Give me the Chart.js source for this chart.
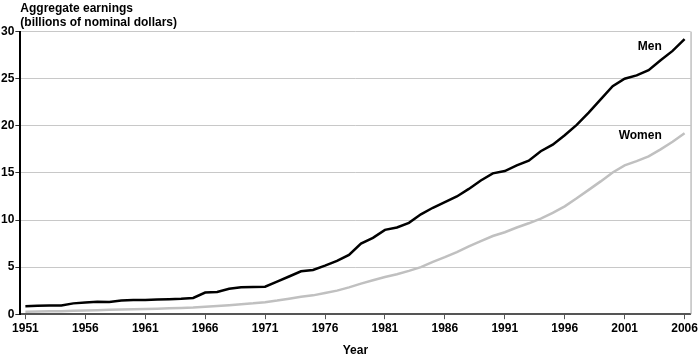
<!DOCTYPE html>
<html>
<head>
<meta charset="utf-8">
<script src="https://cdn.jsdelivr.net/npm/chart.js@4"></script>
<style>
  html, body { margin: 0; padding: 0; background: #fff; }
  #wrap { width: 700px; height: 359px; }
</style>
</head>
<body>
<div id="wrap"><canvas id="earningsChart"></canvas></div>
<script>
const years = [1951, 1952, 1953, 1954, 1955, 1956, 1957, 1958, 1959, 1960,
    1961, 1962, 1963, 1964, 1965, 1966, 1967, 1968, 1969, 1970,
    1971, 1972, 1973, 1974, 1975, 1976, 1977, 1978, 1979, 1980,
    1981, 1982, 1983, 1984, 1985, 1986, 1987, 1988, 1989, 1990,
    1991, 1992, 1993, 1994, 1995, 1996, 1997, 1998, 1999, 2000,
    2001, 2002, 2003, 2004, 2005, 2006];

// billions of nominal dollars
const menEarnings = [0.85, 0.9, 0.92, 0.92, 1.15, 1.25, 1.32, 1.3, 1.45, 1.5,
    1.5, 1.55, 1.6, 1.65, 1.73, 2.3, 2.35, 2.7, 2.85, 2.9,
    2.92, 3.45, 4.0, 4.55, 4.7, 5.15, 5.65, 6.3, 7.5, 8.1,
    8.95, 9.2, 9.7, 10.6, 11.3, 11.9, 12.5, 13.3, 14.2, 14.95,
    15.2, 15.8, 16.3, 17.3, 18.0, 19.0, 20.1, 21.4, 22.8, 24.2,
    25.0, 25.35, 25.9, 26.95, 27.95, 29.2];

const womenEarnings = [0.25, 0.28, 0.3, 0.32, 0.36, 0.4, 0.43, 0.46, 0.5, 0.53,
    0.56, 0.59, 0.62, 0.65, 0.7, 0.78, 0.86, 0.95, 1.05, 1.15,
    1.28, 1.45, 1.65, 1.85, 2.0, 2.25, 2.5, 2.85, 3.25, 3.6,
    3.95, 4.25, 4.6, 5.0, 5.55, 6.05, 6.6, 7.2, 7.75, 8.3,
    8.7, 9.2, 9.65, 10.15, 10.75, 11.45, 12.3, 13.2, 14.1, 15.05,
    15.8, 16.25, 16.75, 17.5, 18.3, 19.2];

const xTickYears = [1951, 1956, 1961, 1966, 1971, 1976, 1981, 1986, 1991, 1996, 2001, 2006];
const yTicks = [0, 5, 10, 15, 20, 25, 30];

const seriesLabels = ['Men', 'Women'];
const labelPlaces = [[2003.1, 28.4], [2002.3, 18.9]];

const fontFamily = '"Liberation Sans", Arial, sans-serif';

// names written next to the lines
const lineNames = {
    id: 'lineNames',
    afterDatasetsDraw(chart) {
        const { ctx, scales: { x, y } } = chart;
        ctx.save();
        ctx.font = 'bold 12px ' + fontFamily;
        ctx.fillStyle = '#000';
        ctx.textAlign = 'center';
        ctx.textBaseline = 'middle';
        seriesLabels.forEach((name, i) => {
            ctx.fillText(name, x.getPixelForValue(labelPlaces[i][0]), y.getPixelForValue(labelPlaces[i][1]));
        });
        ctx.restore();
    }
};

// thin frame line on the right side of the plot
const rightEdge = {
    id: 'rightEdge',
    beforeDatasetsDraw(chart) {
        const { ctx, chartArea } = chart;
        ctx.save();
        ctx.strokeStyle = '#a0a0a0';
        ctx.lineWidth = 1;
        ctx.beginPath();
        ctx.moveTo(chartArea.right + 0.5, chartArea.top);
        ctx.lineTo(chartArea.right + 0.5, chartArea.bottom);
        ctx.stroke();
        ctx.restore();
    }
};

const ctx = document.getElementById('earningsChart').getContext('2d');
new Chart(ctx, {
    type: 'line',
    data: {
        datasets: [
            {
                label: seriesLabels[0],
                data: years.map((yr, i) => ({ x: yr, y: menEarnings[i] })),
                borderColor: '#000000',
                borderWidth: 2.5,
                pointRadius: 0,
                tension: 0
            },
            {
                label: seriesLabels[1],
                data: years.map((yr, i) => ({ x: yr, y: womenEarnings[i] })),
                borderColor: '#c0c0c0',
                borderWidth: 2.5,
                pointRadius: 0,
                tension: 0
            }
        ]
    },
    options: {
        responsive: true,
        maintainAspectRatio: false,
        animation: false,
        layout: { padding: { left: 0, right: 7, top: 0, bottom: 1 } },
        plugins: {
            legend: { display: false },
            tooltip: { enabled: false },
            title: {
                display: true,
                text: ['Aggregate earnings', '(billions of nominal dollars)'],
                align: 'start',
                fullSize: false,
                color: '#000',
                font: { family: fontFamily, size: 12, weight: 'bold', lineHeight: 1.15 },
                padding: { top: 2, bottom: 2 }
            }
        },
        scales: {
            x: {
                type: 'linear',
                min: 1950.58,
                max: 2006.5,
                afterBuildTicks: (scale) => {
                    scale.ticks = xTickYears.map(v => ({ value: v }));
                },
                ticks: {
                    color: '#000',
                    font: { family: fontFamily, size: 12, weight: 'bold' },
                    maxRotation: 0,
                    autoSkip: false,
                    padding: 2,
                    callback: (v) => String(v)
                },
                grid: { drawOnChartArea: false, tickLength: 5, tickColor: '#555', tickWidth: 1 },
                border: { color: '#555', width: 2 },
                title: {
                    display: true,
                    text: 'Year',
                    color: '#000',
                    font: { family: fontFamily, size: 12, weight: 'bold' },
                    padding: { top: 6, bottom: 0 }
                }
            },
            y: {
                min: 0,
                max: 30,
                afterBuildTicks: (scale) => {
                    scale.ticks = yTicks.map(v => ({ value: v }));
                },
                ticks: {
                    color: '#000',
                    font: { family: fontFamily, size: 12, weight: 'bold' },
                    padding: 1
                },
                grid: { color: '#c8c8c8', lineWidth: 1, tickLength: 5, tickColor: '#333' },
                border: { color: '#000', width: 2 }
            }
        }
    },
    plugins: [lineNames, rightEdge]
});
</script>
</body>
</html>
